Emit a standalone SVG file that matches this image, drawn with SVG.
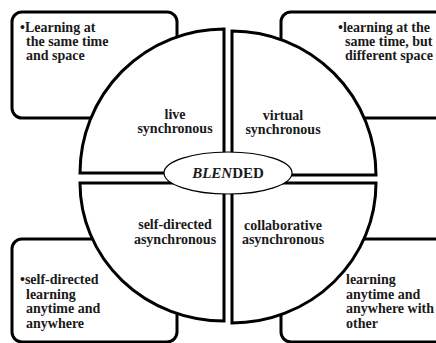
<svg xmlns="http://www.w3.org/2000/svg" width="436" height="343" viewBox="0 0 436 343">
<style>
.box{fill:#fff;stroke:#000;stroke-width:3}
.quad{fill:#fff;stroke:#000;stroke-width:3;stroke-linejoin:miter}
.t{font-family:"Liberation Serif","Times New Roman",serif;font-weight:bold;font-size:14px;fill:#1a1a1a}
.c{text-anchor:middle}
</style>
<rect width="436" height="343" fill="#fff"/>
<g id="box-tl"><rect class="box" x="12" y="12" width="165" height="106" rx="10"/>
<text class="t"><tspan x="20" y="32">•Learning at</tspan><tspan x="26" y="46">the same time</tspan><tspan x="26" y="60">and space</tspan></text></g>
<g id="box-tr"><rect class="box" x="281" y="12" width="170" height="106" rx="10"/>
<text class="t"><tspan x="338" y="32">•learning at the</tspan><tspan x="345" y="46">same time, but</tspan><tspan x="345" y="60">different space</tspan></text></g>
<g id="box-bl"><rect class="box" x="12" y="239" width="165" height="103" rx="10"/>
<text class="t"><tspan x="20" y="284">•self-directed</tspan><tspan x="26" y="299">learning</tspan><tspan x="26" y="313">anytime and</tspan><tspan x="26" y="328">anywhere</tspan></text></g>
<g id="box-br"><rect class="box" x="281" y="239" width="170" height="103" rx="10"/></g>
<g id="q-tl"><path class="quad" d="M224,173 L80,173 A144,144 0 0 1 224,29 Z"/>
<text class="t c"><tspan x="175" y="119">live</tspan><tspan x="175" y="133">synchronous</tspan></text></g>
<g id="q-tr"><path class="quad" d="M232,175 L232,31 A144,144 0 0 1 376,175 Z"/>
<text class="t c"><tspan x="283" y="120">virtual</tspan><tspan x="283" y="134">synchronous</tspan></text></g>
<g id="q-bl"><path class="quad" d="M224,183 L80,183 A144,138 0 0 0 224,321 Z"/>
<text class="t c"><tspan x="175" y="229">self-directed</tspan><tspan x="175" y="244">asynchronous</tspan></text></g>
<g id="q-br"><path class="quad" d="M232,183 L376,183 A144,140 0 0 1 232,323 Z"/>
<text class="t c"><tspan x="283" y="230">collaborative</tspan><tspan x="283" y="244">asynchronous</tspan></text></g>
<g id="br-text"><text class="t"><tspan x="346" y="284">learning</tspan><tspan x="346" y="299">anytime and</tspan><tspan x="346" y="313">anywhere with</tspan><tspan x="346" y="328">other</tspan></text></g>
<g id="blended"><ellipse cx="228" cy="173" rx="64" ry="21" fill="#fff" stroke="#000" stroke-width="1.2"/>
<text class="t c" x="228" y="178" style="font-size:15px"><tspan font-style="italic">BLEN</tspan>DED</text></g>
<g id="connectors"/>
</svg>
